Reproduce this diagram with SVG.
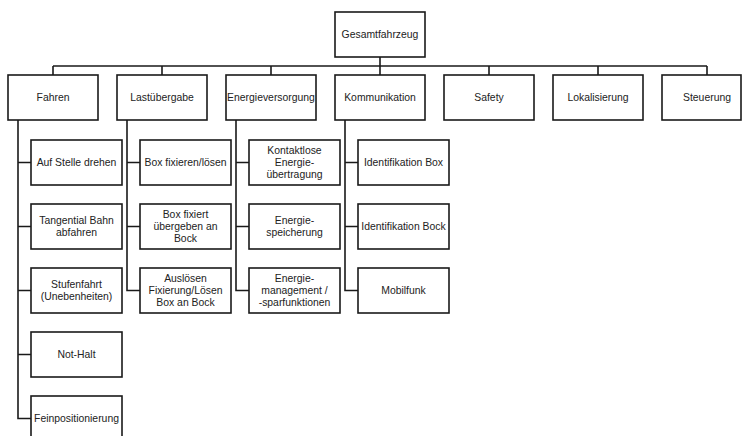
<svg xmlns="http://www.w3.org/2000/svg" width="743" height="436" viewBox="0 0 743 436">
<style>
rect{fill:#fff;stroke:#1a1a1a;stroke-width:1.6}
text{font-family:"Liberation Sans",Arial,sans-serif;font-size:10.4px;fill:#222;text-anchor:middle}
#connectors path{fill:none;stroke:#1a1a1a;stroke-width:1.6}
</style>
<rect x="0" y="0" width="743" height="436" style="stroke:none"/>
<g id="connectors">
<path d="M380 57V66M53 66H707M53 66V75M162 66V75M271 66V75M380 66V75M489 66V75M598 66V75M707 66V75"/>
<path d="M18 120V418.5H31M18 162.5H31M18 226.5H31M18 290.5H31M18 354.5H31"/>
<path d="M127 120V290.5H140M127 162.5H140M127 226.5H140"/>
<path d="M236 120V290.5H249M236 162.5H249M236 226.5H249"/>
<path d="M345 120V290.5H358M345 162.5H358M345 226.5H358"/>
</g>
<g id="root"><rect x="335" y="12" width="90" height="45"/><text x="380" y="38">Gesamtfahrzeug</text></g>
<g id="fahren"><rect x="8" y="75" width="90" height="45"/><text x="53" y="101">Fahren</text></g>
<g id="lastuebergabe"><rect x="117" y="75" width="90" height="45"/><text x="162" y="101">Lastübergabe</text></g>
<g id="energieversorgung"><rect x="226" y="75" width="90" height="45"/><text x="271" y="101">Energieversorgung</text></g>
<g id="kommunikation"><rect x="335" y="75" width="90" height="45"/><text x="380" y="101">Kommunikation</text></g>
<g id="safety"><rect x="444" y="75" width="90" height="45"/><text x="489" y="101">Safety</text></g>
<g id="lokalisierung"><rect x="553" y="75" width="90" height="45"/><text x="598" y="101">Lokalisierung</text></g>
<g id="steuerung"><rect x="662" y="75" width="79" height="45"/><text x="707" y="101">Steuerung</text></g>

<g id="auf-stelle"><rect x="31" y="140" width="91" height="45"/><text x="76.5" y="166">Auf Stelle drehen</text></g>
<g id="tangential"><rect x="31" y="204" width="91" height="45"/><text x="76.5" y="224">Tangential Bahn</text><text x="76.5" y="236">abfahren</text></g>
<g id="stufenfahrt"><rect x="31" y="268" width="91" height="45"/><text x="76.5" y="288">Stufenfahrt</text><text x="76.5" y="300">(Unebenheiten)</text></g>
<g id="not-halt"><rect x="31" y="332" width="91" height="45"/><text x="76.5" y="358">Not-Halt</text></g>
<g id="feinpos"><rect x="31" y="396" width="91" height="45"/><text x="76.5" y="422">Feinpositionierung</text></g>

<g id="box-fixieren"><rect x="140" y="140" width="91" height="45"/><text x="185.5" y="166">Box fixieren/lösen</text></g>
<g id="box-fixiert"><rect x="140" y="204" width="91" height="45"/><text x="185.5" y="218">Box fixiert</text><text x="185.5" y="230">übergeben an</text><text x="185.5" y="242">Bock</text></g>
<g id="ausloesen"><rect x="140" y="268" width="91" height="45"/><text x="185.5" y="282">Auslösen</text><text x="185.5" y="294">Fixierung/Lösen</text><text x="185.5" y="306">Box an Bock</text></g>

<g id="kontaktlose"><rect x="249" y="140" width="91" height="45"/><text x="294.5" y="154">Kontaktlose</text><text x="294.5" y="166">Energie-</text><text x="294.5" y="178">übertragung</text></g>
<g id="speicherung"><rect x="249" y="204" width="91" height="45"/><text x="294.5" y="224">Energie-</text><text x="294.5" y="236">speicherung</text></g>
<g id="management"><rect x="249" y="268" width="91" height="45"/><text x="294.5" y="282">Energie-</text><text x="294.5" y="294">management /</text><text x="294.5" y="306">-sparfunktionen</text></g>

<g id="ident-box"><rect x="358" y="140" width="91" height="45"/><text x="403.5" y="166">Identifikation Box</text></g>
<g id="ident-bock"><rect x="358" y="204" width="91" height="45"/><text x="403.5" y="230">Identifikation Bock</text></g>
<g id="mobilfunk"><rect x="358" y="268" width="91" height="45"/><text x="403.5" y="294">Mobilfunk</text></g>
</svg>
